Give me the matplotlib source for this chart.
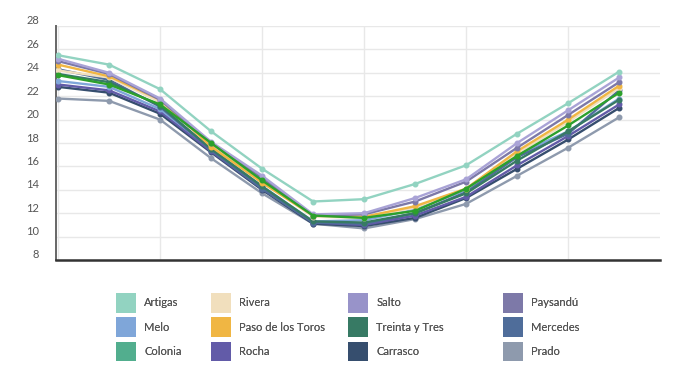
import matplotlib
matplotlib.use("Agg")
import matplotlib.pyplot as plt
import matplotlib.transforms as mtransforms
from matplotlib.patches import Patch

plt.rcParams['font.family'] = ['Lato', 'DejaVu Sans']

months = list(range(12))

series_names = ["Artigas", "Melo", "Colonia", "Rivera", "Paso de los Toros", "Rocha",
                "Salto", "Treinta y Tres", "Carrasco", "Paysandú", "Mercedes", "Prado"]

artigas = [25.5, 24.7, 22.6, 19.0, 15.8, 13.0, 13.2, 14.5, 16.1, 18.8, 21.4, 24.1]
melo = [23.3, 22.8, 20.9, 17.5, 14.3, 11.3, 11.4, 12.3, 14.0, 17.0, 19.0, 21.8]
colonia = [23.8, 23.0, 21.3, 18.0, 14.8, 11.8, 11.6, 12.2, 14.1, 16.9, 19.5, 22.3]
rivera = [24.2, 23.6, 21.5, 17.8, 14.7, 11.7, 11.6, 12.5, 14.1, 17.1, 19.8, 22.7]
paso_toros = [24.7, 23.7, 21.7, 17.7, 14.6, 11.8, 11.7, 12.6, 14.1, 17.3, 20.0, 22.9]
rocha = [23.0, 22.5, 20.7, 17.3, 14.1, 11.2, 11.0, 11.8, 13.4, 16.1, 18.6, 21.3]
salto = [25.2, 24.0, 21.8, 18.1, 15.2, 11.9, 12.0, 13.3, 14.9, 18.0, 20.8, 23.6]
treinta_tres = [23.9, 23.2, 21.2, 17.5, 14.3, 11.3, 11.2, 12.0, 13.7, 16.5, 19.0, 21.7]
carrasco = [22.8, 22.3, 20.5, 17.2, 14.0, 11.1, 10.9, 11.6, 13.3, 15.8, 18.3, 21.0]
paysandu = [25.0, 23.9, 21.7, 18.0, 15.0, 11.8, 11.9, 13.0, 14.7, 17.6, 20.4, 23.2]
mercedes = [24.3, 23.4, 21.1, 17.4, 14.1, 11.2, 11.1, 12.0, 13.8, 16.8, 18.8, 22.5]
prado = [21.8, 21.6, 20.0, 16.7, 13.7, 11.1, 10.7, 11.5, 12.8, 15.2, 17.6, 20.2]

values = [artigas, melo, colonia, rivera, paso_toros, rocha,
          salto, treinta_tres, carrasco, paysandu, mercedes, prado]

legend_colors = ["#92d3c1", "#7fa6d9", "#52ae8e", "#f1dfbd", "#f0b643", "#625ba8",
                 "#9893c9", "#377a64", "#364e6e", "#7d79a8", "#4f6d9a", "#8e9aad"]
line_colors = ["#92d3c1", "#7fa6d9", "#2ca02c", "#f1dfbd", "#f0b643", "#625ba8",
               "#a9a3d6", "#377a64", "#364e6e", "#7d79a8", "#4f6d9a", "#8e9aad"]

y_ticks = [8, 10, 12, 14, 16, 18, 20, 22, 24, 26, 28]

# draw order (bottom to top)
draw_order = [11, 8, 5, 1, 10, 7, 3, 4, 9, 6, 2, 0]

fig = plt.figure(figsize=(6.74, 3.68), dpi=100)
ax = fig.add_axes([56/674, 1-260/368, 604/674, 234/368])

for i in draw_order:
    ax.plot(months, values[i], color=line_colors[i], lw=1.7, marker='o', ms=3.3,
            zorder=3)

ax.set_xlim(-0.04, 11.8)
ax.set_ylim(8, 28)
ax.set_yticks(y_ticks)
ax.set_xticks([0, 2, 4, 6, 8, 10])
ax.set_xticklabels([])
ax.tick_params(axis='x', length=0)
ax.tick_params(axis='y', length=0, pad=12, labelsize=8, labelcolor="#555555")
ax.grid(True, color="#e8e8e8", lw=1.0, zorder=0)
ax.set_axisbelow(True)
for s in ["top", "right"]:
    ax.spines[s].set_visible(False)
ax.spines["left"].set_color("#666666")
ax.spines["left"].set_linewidth(1.4)
ax.spines["bottom"].set_color("#333333")
ax.spines["bottom"].set_linewidth(1.8)

offset = mtransforms.ScaledTranslation(0, 6/100, fig.dpi_scale_trans)
for lab in ax.get_yticklabels():
    lab.set_transform(lab.get_transform() + offset)

# legend: 4 columns of 3
col_x = [107/674, 202/674, 339/674, 494/674]
for c in range(4):
    handles = [Patch(facecolor=legend_colors[c*3 + r], edgecolor='none', label=series_names[c*3 + r])
               for r in range(3)]
    leg = fig.legend(handles=handles, loc='upper left', bbox_to_anchor=(col_x[c], 1-284/368),
                     frameon=False, fontsize=8, handlelength=1.8, handleheight=2.35,
                     handletextpad=0.75, labelspacing=0.42, borderpad=0.3,
                     labelcolor="#555555")
    fig.add_artist(leg)

fig.savefig("out.png", dpi=100)
